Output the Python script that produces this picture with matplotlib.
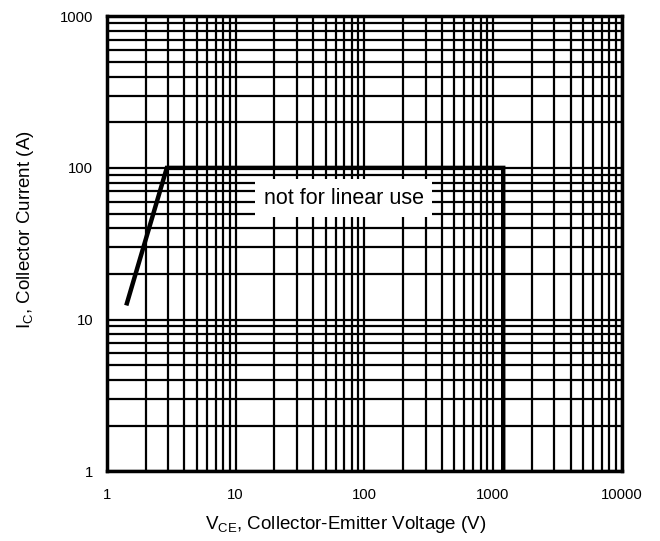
import matplotlib
matplotlib.use("Agg")
import matplotlib.pyplot as plt
from matplotlib.ticker import LogLocator, FixedLocator, NullFormatter

plt.rcParams["font.family"] = ["Liberation Sans", "DejaVu Sans"]

# safe operating area boundary (V, A)
vce = [1.43, 2.92, 1200, 1200]
ic = [12.8, 100, 100, 1]

x_ticks = [1, 10, 100, 1000, 10000]
y_ticks = [1, 10, 100, 1000]
note = "not for linear use"

fig = plt.figure(figsize=(6.6, 5.41), dpi=100)
ax = fig.add_axes([0.162, 0.129, 0.780, 0.841])
ax.set_xscale("log")
ax.set_yscale("log")
ax.set_xlim(1, 10000)
ax.set_ylim(1, 1000)

ax.xaxis.set_major_locator(FixedLocator(x_ticks))
ax.yaxis.set_major_locator(FixedLocator(y_ticks))
ax.xaxis.set_minor_locator(LogLocator(base=10, subs=range(2, 10)))
ax.yaxis.set_minor_locator(LogLocator(base=10, subs=range(2, 10)))
ax.xaxis.set_minor_formatter(NullFormatter())
ax.yaxis.set_minor_formatter(NullFormatter())
ax.set_xticklabels([str(t) for t in x_ticks])
ax.set_yticklabels([str(t) for t in y_ticks])
ax.tick_params(which="both", length=0, labelsize=10.7)
ax.tick_params(axis="x", pad=12)
ax.tick_params(axis="y", pad=10)

ax.grid(True, which="both", color="black", linewidth=1.6)
for s in ax.spines.values():
    s.set_linewidth(2.5)

ax.plot(vce, ic, color="black", linewidth=3.2, solid_joinstyle="miter", zorder=3)

ax.text(69, 63, note, fontsize=15.5, ha="center", va="center", zorder=4,
        bbox=dict(facecolor="white", edgecolor="none", pad=6))

ax.set_xlabel("V$_{\\mathregular{CE}}$, Collector-Emitter Voltage (V)", fontsize=13.5)
ax.set_ylabel("I$_{\\mathregular{C}}$, Collector Current (A)", fontsize=13.5)
ax.xaxis.set_label_coords(0.464, -0.095)
ax.yaxis.set_label_coords(-0.138, 0.53)

fig.savefig("out.png", dpi=100)
